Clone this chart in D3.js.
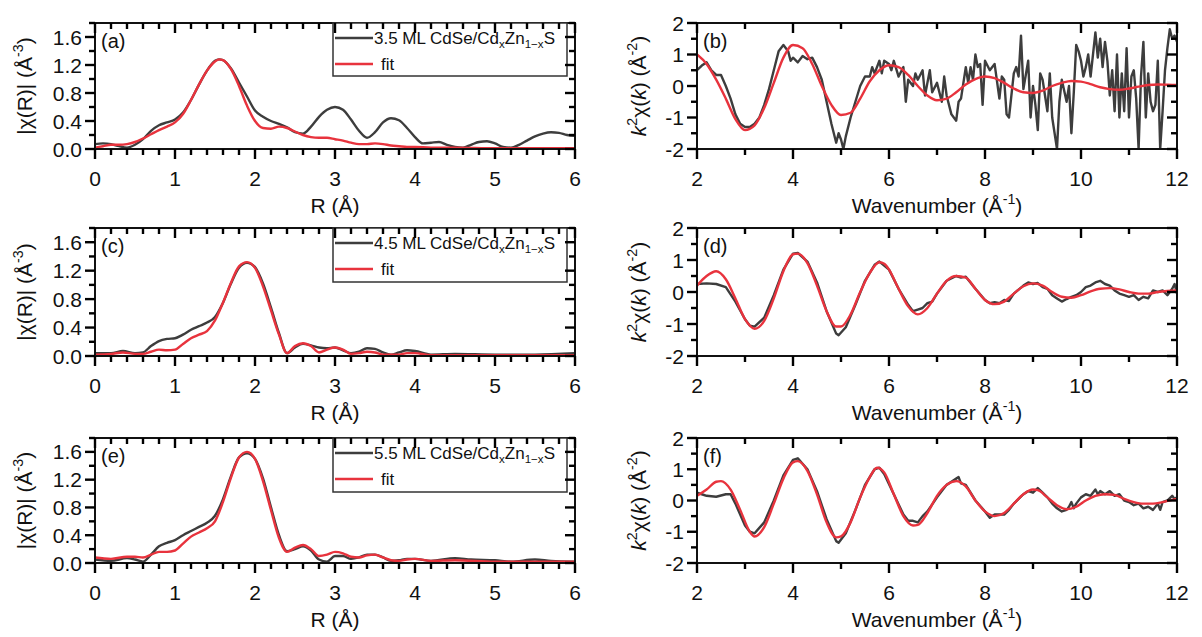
<!DOCTYPE html>
<html>
<head>
<meta charset="utf-8">
<script src="https://cdn.jsdelivr.net/npm/d3@7"></script>
<style>
  body { margin: 0; background: #fff; }
  text { font-family: "Liberation Sans", Arial, sans-serif; fill: #111; }
</style>
</head>
<body>
<svg id="fig" width="1202" height="637"></svg>
<script>
// ---- R-space |chi(R)| : [R, value] ----
var aData = [[0,0.07],[0.1,0.08],[0.2,0.07],[0.3,0.04],[0.4,0.02],[0.5,0.06],[0.6,0.14],[0.7,0.26],[0.8,0.34],[0.9,0.38],[1.0,0.42],[1.1,0.52],[1.2,0.70],[1.3,0.92],[1.4,1.12],[1.5,1.26],[1.55,1.28],[1.6,1.27],[1.7,1.15],[1.8,0.95],[1.9,0.75],[2.0,0.55],[2.1,0.46],[2.2,0.40],[2.3,0.36],[2.4,0.31],[2.5,0.24],[2.6,0.22],[2.7,0.32],[2.8,0.46],[2.9,0.56],[3.0,0.60],[3.1,0.56],[3.2,0.42],[3.3,0.26],[3.4,0.16],[3.5,0.24],[3.6,0.38],[3.7,0.44],[3.8,0.41],[3.9,0.30],[4.0,0.17],[4.1,0.08],[4.2,0.09],[4.3,0.10],[4.4,0.06],[4.5,0.03],[4.6,0.02],[4.7,0.06],[4.8,0.10],[4.9,0.11],[5.0,0.08],[5.1,0.03],[5.2,0.02],[5.3,0.06],[5.4,0.12],[5.5,0.18],[5.6,0.22],[5.7,0.24],[5.8,0.23],[5.9,0.20],[6.0,0.19]];
var aFit = [[0,0.02],[0.1,0.04],[0.2,0.06],[0.3,0.06],[0.4,0.07],[0.5,0.10],[0.6,0.15],[0.7,0.21],[0.8,0.27],[0.9,0.32],[1.0,0.38],[1.1,0.50],[1.2,0.70],[1.3,0.92],[1.4,1.12],[1.5,1.25],[1.55,1.28],[1.6,1.27],[1.7,1.14],[1.8,0.90],[1.9,0.62],[2.0,0.40],[2.1,0.30],[2.2,0.29],[2.3,0.32],[2.4,0.30],[2.5,0.25],[2.6,0.20],[2.7,0.17],[2.8,0.16],[2.9,0.16],[3.0,0.14],[3.1,0.12],[3.2,0.09],[3.3,0.07],[3.4,0.07],[3.5,0.08],[3.6,0.07],[3.7,0.05],[3.8,0.04],[3.9,0.03],[4.0,0.03],[4.2,0.02],[4.5,0.02],[5.0,0.01],[5.5,0.01],[6.0,0.01]];

var cData = [[0,0.04],[0.2,0.04],[0.35,0.07],[0.5,0.04],[0.6,0.05],[0.7,0.14],[0.8,0.21],[0.9,0.24],[1.0,0.25],[1.1,0.30],[1.2,0.37],[1.3,0.42],[1.4,0.47],[1.5,0.55],[1.6,0.75],[1.7,1.02],[1.8,1.24],[1.9,1.31],[2.0,1.25],[2.1,1.02],[2.2,0.68],[2.3,0.32],[2.4,0.04],[2.5,0.12],[2.6,0.17],[2.7,0.15],[2.8,0.12],[2.9,0.11],[3.0,0.12],[3.1,0.08],[3.2,0.04],[3.3,0.06],[3.4,0.11],[3.5,0.10],[3.6,0.05],[3.7,0.02],[3.8,0.05],[3.9,0.08],[4.0,0.07],[4.2,0.02],[4.5,0.03],[5.0,0.02],[5.5,0.02],[6.0,0.04]];
var cFit = [[0,0.02],[0.2,0.03],[0.35,0.05],[0.5,0.03],[0.6,0.03],[0.7,0.06],[0.8,0.09],[0.9,0.08],[1.0,0.09],[1.1,0.17],[1.2,0.25],[1.3,0.30],[1.4,0.35],[1.5,0.50],[1.6,0.75],[1.7,1.03],[1.8,1.26],[1.9,1.32],[2.0,1.24],[2.1,0.98],[2.2,0.64],[2.3,0.30],[2.4,0.04],[2.5,0.14],[2.6,0.18],[2.7,0.14],[2.8,0.05],[2.9,0.09],[3.0,0.12],[3.1,0.09],[3.2,0.03],[3.3,0.04],[3.4,0.06],[3.5,0.05],[3.6,0.02],[3.8,0.02],[3.9,0.04],[4.0,0.04],[4.2,0.01],[5.0,0.01],[6.0,0.01]];

var eData = [[0,0.05],[0.2,0.03],[0.4,0.07],[0.5,0.05],[0.6,0.02],[0.7,0.12],[0.8,0.24],[0.9,0.29],[1.0,0.33],[1.1,0.40],[1.2,0.46],[1.3,0.52],[1.4,0.58],[1.5,0.68],[1.6,0.92],[1.7,1.25],[1.8,1.52],[1.9,1.58],[2.0,1.50],[2.1,1.22],[2.2,0.80],[2.3,0.40],[2.4,0.17],[2.5,0.20],[2.6,0.24],[2.7,0.18],[2.8,0.05],[2.9,0.02],[3.0,0.10],[3.1,0.10],[3.2,0.06],[3.3,0.08],[3.4,0.12],[3.5,0.12],[3.6,0.08],[3.7,0.03],[3.8,0.04],[3.9,0.06],[4.0,0.06],[4.2,0.03],[4.5,0.07],[4.7,0.05],[5.0,0.04],[5.2,0.02],[5.5,0.05],[5.7,0.03],[6.0,0.02]];
var eFit = [[0,0.08],[0.2,0.06],[0.4,0.09],[0.5,0.09],[0.6,0.08],[0.7,0.12],[0.8,0.16],[0.9,0.16],[1.0,0.18],[1.1,0.28],[1.2,0.38],[1.3,0.44],[1.4,0.50],[1.5,0.60],[1.6,0.88],[1.7,1.23],[1.8,1.52],[1.9,1.60],[2.0,1.50],[2.1,1.18],[2.2,0.76],[2.3,0.36],[2.4,0.16],[2.5,0.22],[2.6,0.26],[2.7,0.20],[2.8,0.10],[2.9,0.12],[3.0,0.16],[3.1,0.14],[3.2,0.09],[3.3,0.08],[3.4,0.11],[3.5,0.12],[3.6,0.08],[3.7,0.04],[3.8,0.03],[3.9,0.05],[4.0,0.06],[4.2,0.03],[4.5,0.04],[5.0,0.02],[5.5,0.02],[6.0,0.02]];

// ---- k-space k^2 chi(k) : [k, value] ----
var bData = [[2.0,0.5],[2.1,0.65],[2.2,0.75],[2.3,0.5],[2.4,0.35],[2.5,0.35],[2.6,0.0],[2.7,-0.4],[2.8,-0.9],[2.9,-1.2],[3.0,-1.3],[3.1,-1.3],[3.2,-1.2],[3.3,-1.0],[3.4,-0.6],[3.5,-0.1],[3.6,0.5],[3.7,1.1],[3.8,1.3],[3.9,1.1],[3.95,0.8],[4.0,0.9],[4.1,0.75],[4.2,0.95],[4.3,0.85],[4.4,0.9],[4.5,0.6],[4.6,0.2],[4.7,-0.5],[4.8,-1.2],[4.9,-1.8],[4.95,-1.5],[5.0,-1.7],[5.05,-2.0],[5.1,-1.6],[5.2,-1.0],[5.3,-0.5],[5.4,0.0],[5.5,0.3],[5.6,0.3],[5.65,0.6],[5.7,0.4],[5.8,0.8],[5.85,0.4],[5.9,0.8],[6.0,0.7],[6.05,0.5],[6.1,0.8],[6.2,0.3],[6.3,0.6],[6.35,-0.5],[6.4,0.2],[6.5,0.0],[6.55,0.4],[6.6,0.2],[6.7,0.5],[6.75,-0.3],[6.8,0.1],[6.85,0.5],[6.9,-0.2],[7.0,0.1],[7.1,-0.5],[7.15,0.3],[7.2,-0.3],[7.3,-0.9],[7.4,-1.1],[7.45,-0.5],[7.5,-0.4],[7.6,0.6],[7.65,0.1],[7.7,0.6],[7.75,0.2],[7.8,1.0],[7.85,0.6],[7.9,0.7],[7.95,-0.6],[8.0,0.8],[8.1,0.5],[8.2,0.7],[8.3,-0.4],[8.35,0.3],[8.4,0.2],[8.45,-0.9],[8.5,-1.0],[8.6,0.4],[8.65,0.6],[8.7,0.3],[8.75,1.6],[8.8,-0.1],[8.9,0.8],[8.95,-1.0],[9.0,0.0],[9.05,-0.6],[9.1,-1.4],[9.15,0.4],[9.2,0.2],[9.3,-0.8],[9.35,0.4],[9.4,-1.0],[9.5,-2.0],[9.55,-0.5],[9.6,0.2],[9.7,-0.5],[9.75,0.0],[9.8,-1.5],[9.85,-0.2],[9.9,1.3],[9.95,1.1],[10.0,0.8],[10.05,0.3],[10.1,0.6],[10.15,1.0],[10.2,0.3],[10.3,1.7],[10.35,0.9],[10.4,1.5],[10.45,0.6],[10.5,1.4],[10.55,0.8],[10.6,-0.3],[10.65,0.5],[10.7,-0.8],[10.75,1.0],[10.8,-1.0],[10.85,0.4],[10.9,-0.8],[10.95,1.2],[11.0,-1.0],[11.05,0.3],[11.1,0.5],[11.15,-0.4],[11.2,-2.0],[11.25,0.3],[11.3,1.4],[11.35,-1.0],[11.4,0.4],[11.45,-0.5],[11.5,-0.8],[11.55,-0.6],[11.6,0.8],[11.65,-2.0],[11.7,-0.8],[11.75,0.5],[11.8,1.2],[11.85,1.8],[11.9,1.5],[11.95,1.6],[12.0,1.4]];
var bFit = [[2.0,1.0],[2.2,0.7],[2.4,0.2],[2.6,-0.4],[2.8,-1.05],[3.0,-1.4],[3.2,-1.25],[3.4,-0.7],[3.6,0.1],[3.8,0.9],[4.0,1.3],[4.2,1.2],[4.4,0.7],[4.6,0.0],[4.8,-0.6],[5.0,-0.92],[5.2,-0.85],[5.4,-0.4],[5.6,0.15],[5.8,0.5],[6.0,0.66],[6.2,0.6],[6.4,0.35],[6.6,0.0],[6.8,-0.3],[7.0,-0.45],[7.2,-0.4],[7.4,-0.2],[7.6,0.05],[7.8,0.22],[8.0,0.3],[8.2,0.25],[8.4,0.1],[8.6,-0.08],[8.8,-0.2],[9.0,-0.22],[9.2,-0.15],[9.4,0.0],[9.6,0.1],[9.8,0.16],[10.0,0.14],[10.2,0.06],[10.4,-0.04],[10.6,-0.1],[10.8,-0.12],[11.0,-0.08],[11.2,-0.02],[11.4,0.03],[11.6,0.05],[11.8,0.04],[12.0,0.03]];

var dData = [[2.0,0.25],[2.2,0.27],[2.4,0.25],[2.6,0.15],[2.8,-0.3],[3.0,-0.85],[3.1,-1.05],[3.2,-1.08],[3.4,-0.8],[3.6,-0.1],[3.8,0.7],[4.0,1.2],[4.1,1.22],[4.3,0.95],[4.5,0.3],[4.7,-0.6],[4.9,-1.3],[4.95,-1.35],[5.1,-1.1],[5.3,-0.4],[5.5,0.35],[5.7,0.85],[5.8,0.95],[6.0,0.7],[6.2,0.1],[6.4,-0.4],[6.5,-0.6],[6.6,-0.55],[6.7,-0.5],[6.8,-0.35],[6.9,-0.3],[7.0,-0.05],[7.2,0.35],[7.4,0.5],[7.5,0.45],[7.6,0.48],[7.8,0.1],[8.0,-0.25],[8.1,-0.35],[8.2,-0.32],[8.3,-0.35],[8.4,-0.25],[8.5,-0.28],[8.6,-0.05],[8.8,0.2],[8.9,0.3],[9.0,0.25],[9.1,0.28],[9.2,0.15],[9.3,0.1],[9.4,-0.1],[9.5,-0.2],[9.6,-0.3],[9.7,-0.22],[9.8,-0.15],[9.9,-0.1],[10.0,0.0],[10.1,0.15],[10.2,0.2],[10.3,0.3],[10.4,0.35],[10.5,0.25],[10.6,0.2],[10.7,0.05],[10.8,-0.05],[10.9,-0.1],[11.0,-0.15],[11.1,-0.1],[11.2,-0.25],[11.3,-0.15],[11.4,-0.2],[11.5,0.05],[11.6,0.0],[11.7,0.05],[11.8,-0.1],[11.9,0.1],[11.95,0.25],[12.0,-0.05]];
var dFit = [[2.0,0.2],[2.2,0.5],[2.4,0.65],[2.6,0.4],[2.8,-0.2],[3.0,-0.85],[3.2,-1.15],[3.4,-0.9],[3.6,-0.2],[3.8,0.65],[4.0,1.18],[4.1,1.2],[4.3,0.9],[4.5,0.2],[4.7,-0.6],[4.9,-1.08],[5.0,-1.08],[5.2,-0.7],[5.4,0.0],[5.6,0.6],[5.8,0.93],[5.9,0.88],[6.0,0.7],[6.2,0.1],[6.4,-0.45],[6.6,-0.7],[6.8,-0.5],[7.0,-0.05],[7.2,0.35],[7.4,0.5],[7.6,0.45],[7.8,0.1],[8.0,-0.25],[8.2,-0.38],[8.4,-0.3],[8.6,-0.05],[8.8,0.18],[9.0,0.27],[9.2,0.2],[9.4,0.0],[9.6,-0.15],[9.8,-0.18],[10.0,-0.1],[10.2,0.02],[10.4,0.1],[10.6,0.12],[10.8,0.08],[11.0,0.0],[11.2,-0.05],[11.4,-0.05],[11.6,0.0],[11.8,0.03],[12.0,0.05]];

var fData = [[2.0,0.25],[2.1,0.2],[2.2,0.15],[2.4,0.12],[2.6,0.2],[2.7,0.2],[2.8,-0.1],[3.0,-0.8],[3.1,-1.0],[3.2,-1.05],[3.4,-0.7],[3.6,0.0],[3.8,0.8],[4.0,1.3],[4.1,1.35],[4.3,1.0],[4.5,0.3],[4.7,-0.6],[4.9,-1.3],[4.95,-1.35],[5.1,-1.05],[5.3,-0.3],[5.5,0.5],[5.7,1.0],[5.8,1.05],[5.9,0.85],[6.1,0.2],[6.3,-0.45],[6.4,-0.65],[6.5,-0.65],[6.6,-0.7],[6.7,-0.5],[6.8,-0.35],[7.0,0.1],[7.2,0.5],[7.3,0.6],[7.4,0.7],[7.45,0.75],[7.5,0.55],[7.6,0.5],[7.8,0.0],[8.0,-0.35],[8.1,-0.55],[8.2,-0.45],[8.4,-0.45],[8.5,-0.3],[8.6,-0.1],[8.8,0.2],[8.9,0.3],[9.0,0.25],[9.1,0.4],[9.2,0.25],[9.3,0.1],[9.4,-0.1],[9.5,-0.25],[9.6,-0.35],[9.7,-0.3],[9.75,-0.2],[9.8,-0.05],[9.85,-0.25],[9.9,-0.1],[10.0,0.1],[10.1,0.2],[10.2,0.15],[10.3,0.35],[10.35,0.2],[10.4,0.3],[10.5,0.2],[10.6,0.3],[10.7,0.15],[10.8,0.2],[10.9,0.0],[11.0,-0.05],[11.1,-0.15],[11.2,-0.1],[11.3,-0.25],[11.4,-0.2],[11.5,-0.3],[11.6,-0.1],[11.65,-0.3],[11.7,-0.05],[11.8,0.0],[11.9,0.15],[11.95,0.05],[12.0,0.1]];
var fFit = [[2.0,0.15],[2.2,0.35],[2.4,0.6],[2.5,0.62],[2.7,0.35],[2.9,-0.3],[3.1,-1.0],[3.2,-1.15],[3.4,-0.85],[3.6,-0.1],[3.8,0.7],[4.0,1.22],[4.1,1.26],[4.3,0.95],[4.5,0.2],[4.7,-0.7],[4.9,-1.18],[5.0,-1.15],[5.2,-0.7],[5.4,0.1],[5.6,0.75],[5.75,1.05],[5.9,0.9],[6.1,0.2],[6.3,-0.5],[6.5,-0.8],[6.6,-0.78],[6.8,-0.4],[7.0,0.15],[7.2,0.5],[7.4,0.62],[7.6,0.45],[7.8,0.0],[8.0,-0.35],[8.2,-0.5],[8.4,-0.4],[8.6,-0.1],[8.8,0.2],[9.0,0.35],[9.1,0.33],[9.3,0.1],[9.5,-0.15],[9.7,-0.28],[9.9,-0.2],[10.1,0.0],[10.3,0.15],[10.5,0.2],[10.7,0.18],[10.9,0.05],[11.1,-0.05],[11.3,-0.1],[11.5,-0.1],[11.7,-0.05],[11.9,0.02],[12.0,0.05]];

var rTicks = [0, 1, 2, 3, 4, 5, 6];
var rYTicks = ["0.0", "0.4", "0.8", "1.2", "1.6"];
var kTicks = [2, 4, 6, 8, 10, 12];
var kYTicks = ["-2", "-1", "0", "1", "2"];
var samples = ["3.5", "4.5", "5.5"];

var svg = d3.select("#fig");
var rows = [[23, 149], [228, 356], [438, 563]];
var cols = [[95, 575], [697, 1177]];
var grey = "#3d3d3d", red = "#e8333d";
var frames = [];   // scales of each panel, ticks drawn at the end

// text with sub/superscripts: segs = [[text, "sup"|"sub"|"", italic]]
function rich(sel, segs, size) {
    var shift = 0;
    segs.forEach(function (s) {
        var t = sel.append("tspan").text(s[0]);
        var target = s[1] == "sup" ? -0.42 * size : s[1] == "sub" ? 0.25 * size : 0;
        t.attr("dy", target - shift);
        shift = target;
        if (s[1]) t.style("font-size", (size * 0.68) + "px");
        if (s[2]) t.style("font-style", "italic");
    });
}

function isMajor(v, majors) {
    return majors.some(function (m) { return Math.abs(m - v) < 1e-6; });
}

function panel(p) {
    var x0 = cols[p.col][0], x1 = cols[p.col][1];
    var y0 = rows[p.row][0], y1 = rows[p.row][1];
    var x = d3.scaleLinear().domain(p.xd).range([x0, x1]);
    var y = d3.scaleLinear().domain(p.yd).range([y1, y0]);
    var g = svg.append("g");

    var clipId = "clip" + p.id;
    svg.append("defs").append("clipPath").attr("id", clipId).append("rect")
        .attr("x", x0).attr("y", y0).attr("width", x1 - x0).attr("height", y1 - y0);

    var line = d3.line().x(function (d) { return x(d[0]); }).y(function (d) { return y(d[1]); });
    var smooth = d3.line().curve(d3.curveMonotoneX).x(function (d) { return x(d[0]); }).y(function (d) { return y(d[1]); });
    var curves = g.append("g").attr("clip-path", "url(#" + clipId + ")");
    curves.append("path").attr("d", (p.noisy ? line : smooth)(p.data))
        .attr("fill", "none").attr("stroke", grey).attr("stroke-width", 2.4).attr("stroke-linejoin", "round");
    curves.append("path").attr("d", smooth(p.fit))
        .attr("fill", "none").attr("stroke", red).attr("stroke-width", 2.4).attr("stroke-linejoin", "round");

    g.append("rect").attr("x", x0).attr("y", y0).attr("width", x1 - x0).attr("height", y1 - y0)
        .attr("fill", "none").attr("stroke", "#111").attr("stroke-width", 2);

    g.selectAll(".xl").data(p.xTicks).enter().append("text")
        .attr("x", function (d) { return x(d); }).attr("y", y1 + 37)
        .attr("text-anchor", "middle").style("font-size", "21px").text(function (d) { return d; });
    g.selectAll(".yl").data(p.yTicks).enter().append("text")
        .attr("x", x0 - 13).attr("y", function (d) { return y(+d) + 7.5; })
        .attr("text-anchor", "end").style("font-size", "21px").text(function (d) { return d; });

    var xt = g.append("text").attr("x", (x0 + x1) / 2).attr("y", y1 + 64)
        .attr("text-anchor", "middle").style("font-size", "21px");
    rich(xt, p.xTitle, 21);
    var yt = g.append("text").attr("transform", "translate(" + p.yTitleX + "," + (y0 + y1) / 2 + ") rotate(-90)")
        .attr("text-anchor", "middle").style("font-size", "21px");
    rich(yt, p.yTitle, 21);

    g.append("text").attr("x", x0 + 6).attr("y", y0 + 25).style("font-size", "20px").text("(" + p.id + ")");

    if (p.sample) {
        var lx = x0 + 238, lw = 234, lh = p.row == 0 ? 53 : 54;
        var lg = g.append("g");
        lg.append("rect").attr("x", lx).attr("y", y0).attr("width", lw).attr("height", lh)
            .attr("fill", "#fff").attr("stroke", "#333").attr("stroke-width", 1.5);
        lg.append("line").attr("x1", lx + 2).attr("x2", lx + 40).attr("y1", y0 + 15).attr("y2", y0 + 15)
            .attr("stroke", grey).attr("stroke-width", 2.4);
        lg.append("line").attr("x1", lx + 2).attr("x2", lx + 40).attr("y1", y0 + 41).attr("y2", y0 + 41)
            .attr("stroke", red).attr("stroke-width", 2.4);
        var lt = lg.append("text").attr("x", lx + 41).attr("y", y0 + 21).style("font-size", "17px");
        rich(lt, [[p.sample + " ML CdSe/Cd", ""], ["x", "sub"], ["Zn", ""], ["1\u2212x", "sub"], ["S", ""]], 17);
        lg.append("text").attr("x", lx + 48).attr("y", y0 + 47).style("font-size", "17px").text("fit");
    }

    frames.push({ p: p, x: x, y: y, x0: x0, x1: x1, y0: y0, y1: y1 });
}

var rTitle = [["R (\u00c5)", ""]];
var rYTitle = [["|\u03c7(R)| (\u00c5", ""], ["-3", "sup"], [")", ""]];
var kTitle = [["Wavenumber (\u00c5", ""], ["-1", "sup"], [")", ""]];
var kYTitle = [["k", "", true], ["2", "sup"], ["\u03c7(", ""], ["k", "", true], [") (\u00c5", ""], ["-2", "sup"], [")", ""]];

var rSets = [[aData, aFit], [cData, cFit], [eData, eFit]];
var kSets = [[bData, bFit], [dData, dFit], [fData, fFit]];
["a", "c", "e"].forEach(function (id, i) {
    panel({ id: id, row: i, col: 0, data: rSets[i][0], fit: rSets[i][1], noisy: false,
        xd: [0, 6], yd: [0, 1.8], xTicks: rTicks, yTicks: rYTicks, xMinorStep: 0.2, yMinorStep: 0.2,
        xTitle: rTitle, yTitle: rYTitle, yTitleX: 32, sample: samples[i] });
});
["b", "d", "f"].forEach(function (id, i) {
    panel({ id: id, row: i, col: 1, data: kSets[i][0], fit: kSets[i][1], noisy: true,
        xd: [2, 12], yd: [-2, 2], xTicks: kTicks, yTicks: kYTicks, xMinorStep: 1, yMinorStep: 0.5,
        xTitle: kTitle, yTitle: kYTitle, yTitleX: 646 });
});

// tick marks on top of everything: bottom/left outward, top/right mirrored inward
var tickG = svg.append("g");
frames.forEach(function (f) {
    var p = f.p, yMajor = p.yTicks.map(Number);
    var xs = d3.range(p.xd[0], p.xd[1] + 1e-6, p.xMinorStep).map(function (v) {
        return { v: v, L: isMajor(v, p.xTicks) ? 10 : 6 };
    });
    var ys = d3.range(p.yd[0], p.yd[1] + 1e-6, p.yMinorStep).map(function (v) {
        return { v: v, L: isMajor(v, yMajor) ? 10 : 6 };
    });
    [f.y1, f.y0].forEach(function (edge) {
        tickG.selectAll(null).data(xs).enter().append("line")
            .attr("x1", function (d) { return f.x(d.v); }).attr("x2", function (d) { return f.x(d.v); })
            .attr("y1", edge).attr("y2", function (d) { return edge + d.L; })
            .attr("stroke", "#000").attr("stroke-width", 2.4);
    });
    tickG.selectAll(null).data(ys).enter().append("line")
        .attr("y1", function (d) { return f.y(d.v); }).attr("y2", function (d) { return f.y(d.v); })
        .attr("x1", f.x0).attr("x2", function (d) { return f.x0 - d.L; })
        .attr("stroke", "#000").attr("stroke-width", 2.4);
    tickG.selectAll(null).data(ys).enter().append("line")
        .attr("y1", function (d) { return f.y(d.v); }).attr("y2", function (d) { return f.y(d.v); })
        .attr("x1", f.x1).attr("x2", function (d) { return f.x1 - d.L; })
        .attr("stroke", "#000").attr("stroke-width", 2.4);
});
</script>
</body>
</html>
